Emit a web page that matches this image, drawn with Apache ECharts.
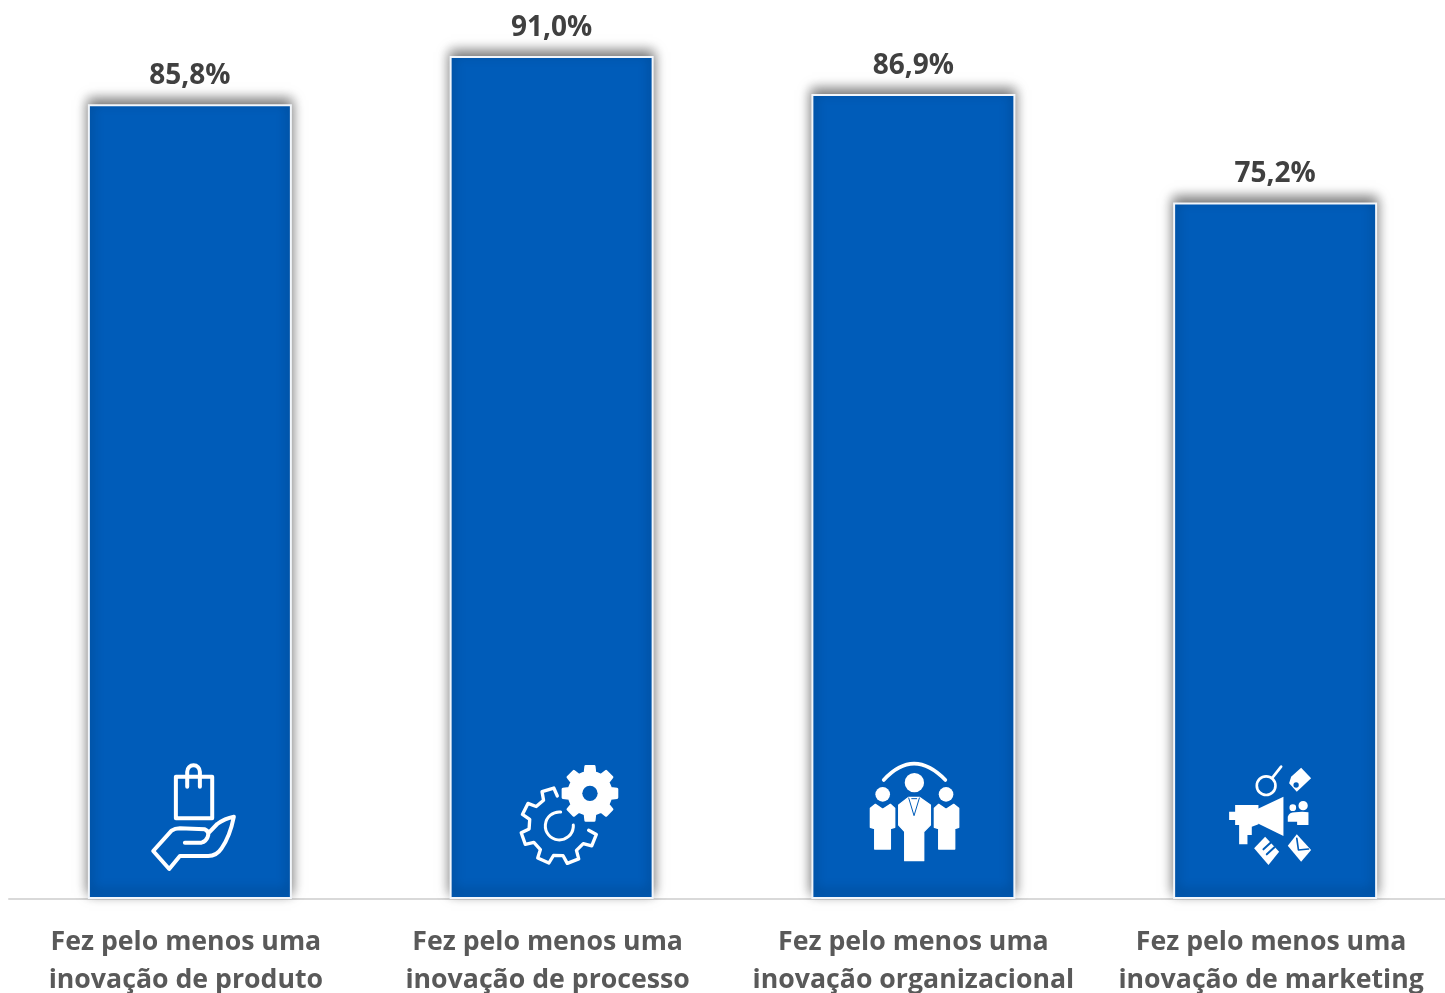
<!DOCTYPE html>
<html lang="pt">
<head>
<meta charset="utf-8">
<title>Inovação</title>
<style>
  html, body { margin: 0; padding: 0; background: #fff; overflow: hidden; }
  #chart { width: 1445px; height: 993px; }
</style>
<script src="https://cdn.jsdelivr.net/npm/echarts@6/dist/echarts.min.js"></script>
</head>
<body>
<div id="chart"></div>
<script>
// Share of firms reporting each kind of innovation
const categories = [
  'Fez pelo menos uma\ninovação de produto',
  'Fez pelo menos uma\ninovação de processo',
  'Fez pelo menos uma\ninovação organizacional',
  'Fez pelo menos uma\ninovação de marketing'
];
const shares = [85.8, 91.0, 86.9, 75.2];
// Right padding nudges each axis label off its bar centre
const labelNudge = [8, 8, 0, 8];

const BLUE = '#005CB9';
const WHITE = '#ffffff';

const circle = (cx, cy, r) =>
  `M${cx - r} ${cy}A${r} ${r} 0 1 1 ${cx + r} ${cy}A${r} ${r} 0 1 1 ${cx - r} ${cy}Z`;

// Toothed gear outline; angles in degrees, counter-clockwise from east
function gearPath(cx, cy, rOut, rIn, teeth, from, step) {
  const pt = (deg, r) => {
    const a = deg * Math.PI / 180;
    return (cx + r * Math.cos(a)).toFixed(1) + ' ' + (cy - r * Math.sin(a)).toFixed(1);
  };
  let d = '';
  for (let i = 0; i < teeth; i++) {
    const c = from + i * step;
    const half = step * 0.2;
    d += (i === 0 ? 'M' + pt(c - half * 1.5, rIn) : 'L' + pt(c - half * 1.5, rIn));
    d += 'L' + pt(c - half, rOut) + 'L' + pt(c + half, rOut) + 'L' + pt(c + half * 1.5, rIn);
  }
  return d;
}

// Icon drawings on a 3× local grid, origin at the icon's box corner
const handIcon = [
  { stroke: WHITE, w: 12, d: 'M138 80H247V205H138Z' },
  { stroke: WHITE, w: 12, d: 'M172 110V65A19 19 0 0 1 210 65V110' },
  { stroke: WHITE, w: 12, d: 'M165 278L215 278Q228 275 233 262Q240 245 225 238L150 235Q135 235 125 242L70 303L118 357L150 318L235 318Q260 318 275 295Q300 260 312 200Q285 205 262 222L235 250' }
];
const gearIcon = [
  { stroke: WHITE, w: 10, d: gearPath(160, 228, 115, 90, 6, 107, 46.2) },
  { stroke: WHITE, w: 9, d: 'M165 186A42 42 0 1 0 203 225' },
  { fill: WHITE, stroke: WHITE, w: 8, d: gearPath(253, 130, 82, 64, 8, 0, 45) + 'Z' },
  { fill: BLUE, d: circle(253, 130, 23) }
];
const peopleIcon = [
  { stroke: WHITE, w: 11, d: 'M85 90Q175 -8 270 90' },
  { fill: WHITE, d: circle(177, 98, 29) },
  { fill: WHITE, stroke: WHITE, w: 4, d: 'M160 142L130 165V225L148 245V332H205V245L225 225V165L192 142Z' },
  { stroke: BLUE, w: 3, d: 'M160 144L176 197L192 144M169 146H184' },
  { fill: WHITE, d: circle(82, 133, 22) },
  { fill: WHITE, stroke: WHITE, w: 4, d: 'M60 163L82 178L105 163L118 175V232L105 236V297H58V236L45 232V175Z' },
  { fill: WHITE, d: circle(272, 133, 22) },
  { fill: WHITE, stroke: WHITE, w: 4, d: 'M250 163L272 178L295 163L310 175V232L298 236V297H250V236L237 232V175Z' }
];
const marketingIcon = [
  { stroke: WHITE, w: 8, d: circle(153, 92, 28) + 'M172 68L198 35' },
  { fill: WHITE, d: 'M258 38L288 70L245 110L222 85L228 65Z' },
  { fill: BLUE, d: circle(243, 90, 8) },
  { fill: WHITE, d: 'M205 125V243L127 205V162Z' },
  { fill: WHITE, d: 'M60 150H130V208L110 215V240H97V268H72V210H60V195H42V170H60Z' },
  { fill: WHITE, d: circle(264, 152, 14) + circle(233, 158, 10) },
  { fill: WHITE, d: 'M218 205V185Q222 172 240 172Q262 168 280 172V210H246V200H218Z' },
  { fill: WHITE, d: 'M150 245L192 290L160 330L117 280Z' },
  { stroke: BLUE, w: 6, d: 'M145 283L168 262M155 298L178 277' },
  { fill: WHITE, d: 'M245 238L288 285L258 320L218 272Z' },
  { stroke: BLUE, w: 5, d: 'M245 250L250 285L280 282' }
];
const icons = [handIcon, gearIcon, peopleIcon, marketingIcon];
// Corner of each icon's box, measured from the bar's foot at its centre
const iconOrigins = [[-60, -149], [-46, -149], [-58, -149], [-60, -144]];

const chart = echarts.init(document.getElementById('chart'), null, { renderer: 'canvas' });

chart.setOption({
  animation: false,
  textStyle: { fontFamily: '"Open Sans", sans-serif' },
  grid: { left: 9, top: 1, width: 1447, height: 898, containLabel: false, outerBoundsMode: 'none' },
  xAxis: {
    type: 'category',
    data: categories.map((value, i) => ({
      value,
      textStyle: { padding: [0, labelNudge[i], 0, 0] }
    })),
    axisTick: { show: false },
    axisLine: { lineStyle: { color: '#D9D9D9', width: 2 } },
    axisLabel: {
      interval: 0,
      margin: 24,
      color: '#595959',
      fontSize: 26.7,
      fontWeight: 'bold',
      lineHeight: 38,
      fontFamily: '"Open Sans", sans-serif'
    }
  },
  yAxis: { type: 'value', min: 0, max: 96.95, show: false, splitLine: { show: false } },
  series: [
    {
      type: 'bar',
      data: shares,
      barWidth: 204,
      itemStyle: {
        color: BLUE,
        borderColor: '#F2F6FB',
        borderWidth: 2,
        shadowColor: 'rgba(0,0,0,0.55)',
        shadowBlur: 12,
        shadowOffsetY: -5
      },
      label: {
        show: true,
        position: 'top',
        distance: 14,
        color: '#404040',
        fontSize: 28,
        fontWeight: 'bold',
        fontFamily: '"Open Sans", sans-serif',
        formatter: (p) => p.value.toFixed(1).replace('.', ',') + '%'
      }
    },
    {
      type: 'custom',
      data: categories.map((_, i) => [i, 0]),
      z: 5,
      silent: true,
      clip: false,
      renderItem(params, api) {
        const foot = api.coord([api.value(0), 0]);
        const i = params.dataIndex;
        return {
          type: 'group',
          x: foot[0] + iconOrigins[i][0],
          y: foot[1] + iconOrigins[i][1],
          scaleX: 1 / 3,
          scaleY: 1 / 3,
          children: icons[i].map((part) => ({
            type: 'path',
            shape: { pathData: part.d },
            style: {
              fill: part.fill || 'none',
              stroke: part.stroke || 'none',
              lineWidth: part.w || 0,
              lineJoin: 'round',
              lineCap: 'round'
            }
          }))
        };
      }
    }
  ]
});
</script>
</body>
</html>
